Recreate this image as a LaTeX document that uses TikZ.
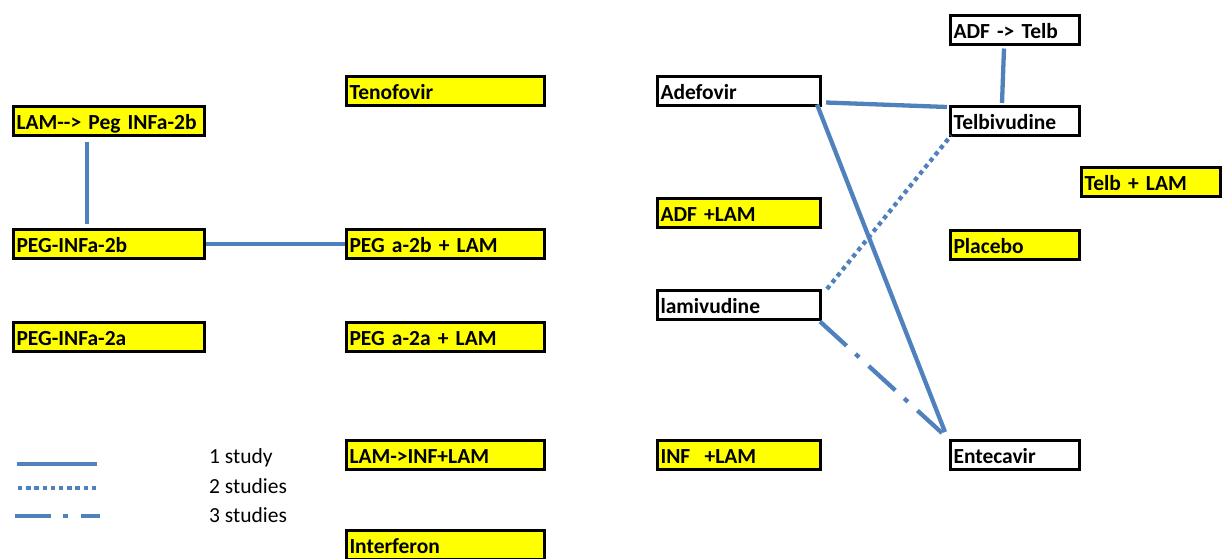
\documentclass[tikz,border=0pt]{standalone}
\usepackage{fontspec}
\setmainfont{Carlito}
\usetikzlibrary{calc}

\definecolor{linkblue}{HTML}{4F81BD}
\definecolor{boxyellow}{HTML}{FFFF00}

\tikzset{
  drug/.style={draw=black, line width=3pt, inner xsep=3pt, inner ysep=0pt,
    align=left, text height=19pt, text depth=2pt, minimum height=28.5pt,
    font=\fontsize{21.5}{24}\selectfont\bfseries, anchor=north west},
  active/.style={drug, fill=boxyellow},
  plain/.style={drug, fill=white},
  colA/.style={minimum width=191pt, text width=185pt},
  colB/.style={minimum width=198pt, text width=192pt},
  colC/.style={minimum width=163pt, text width=157pt},
  colD/.style={minimum width=129pt, text width=123pt},
  colE/.style={minimum width=139pt, text width=133pt},
  link/.style={draw=linkblue, line width=4.3pt},
  onestudy/.style={link},
  twostudies/.style={link, dash pattern=on 4.3pt off 3.9pt},
  threestudies/.style={link, dash pattern=on 36pt off 12pt on 5pt off 13pt},
  legendtext/.style={anchor=base west, inner sep=0pt,
    font=\fontsize{21.5}{24}\selectfont},
}

\begin{document}
\begin{tikzpicture}[x=1pt, y=-1pt]
\useasboundingbox (0,0) rectangle (1230,558);

% interferon-based treatments
\node[active, colA] (lampeg)   at (12,105)  {LAM-{}-> Peg INFa-2b};
\node[active, colA] (peg2b)    at (12,228)  {PEG-INFa-2b};
\node[active, colA] (peg2a)    at (12,321)  {PEG-INFa-2a};

\node[active, colB] (tdf)      at (345,75)  {Tenofovir};
\node[active, colB] (peg2blam) at (345,228) {PEG a-2b + LAM};
\node[active, colB] (peg2alam) at (345,321) {PEG a-2a + LAM};
\node[active, colB] (laminf)   at (345,439) {LAM->INF+LAM};
\node[active, colB] (inf)      at (345,529) {Interferon};

% nucleos(t)ide analogues
\node[plain,  colC] (adv)      at (656,75)  {Adefovir};
\node[active, colC] (adflam)   at (656,197) {ADF +LAM};
\node[plain,  colC] (lam)      at (656,289) {lamivudine};
\node[active, colC] (inflam)   at (656,439) {INF\ \ +LAM};

\node[plain,  colD] (adftelb)  at (949,14)  {ADF -> Telb};
\node[plain,  colD] (telb)     at (949,105) {Telbivudine};
\node[active, colE] (telblam)  at (1080,166) {Telb + LAM};
\node[active, colD] (placebo)  at (949,229) {Placebo};
\node[plain,  colD] (etv)      at (949,439) {Entecavir};

% comparisons
\draw[onestudy] ($(lampeg.south west)+(75,5)$) -- ($(peg2b.north west)+(75,-4)$);
\draw[onestudy] (peg2b.east) -- (peg2blam.west);
\draw[onestudy] ($(adftelb.south west)+(55,3)$) -- ($(telb.north west)+(53,-2)$);
\draw[onestudy] ($(adv.south east)+(4,-4)$) -- ($(telb.north west)+(-2,2)$);
\draw[onestudy] ($(adv.south east)+(-5,-2)$) -- ($(etv.north west)+(-4,-7)$);
\draw[twostudies] ($(lam.north east)+(5,0)$) -- ($(telb.south west)+(2,-1)$);
\draw[threestudies] ($(lam.south east)+(-2,1)$) -- ($(etv.north west)+(-7,-6)$);

% legend
\coordinate (k1a) at (17,464);  \coordinate (k1b) at (97,464);
\coordinate (k2a) at (18,488);  \coordinate (k2b) at (99,488);
\coordinate (k3a) at (15,516);  \coordinate (k3b) at (100,516);
\draw[onestudy] (k1a) -- (k1b);
\draw[twostudies] (k2a) -- (k2b);
\draw[threestudies] (k3a) -- (k3b);
\node[legendtext] (t1) at (209,463) {1 study};
\node[legendtext] (t2) at (209,493) {2 studies};
\node[legendtext] (t3) at (209,522) {3 studies};
\end{tikzpicture}
\end{document}
